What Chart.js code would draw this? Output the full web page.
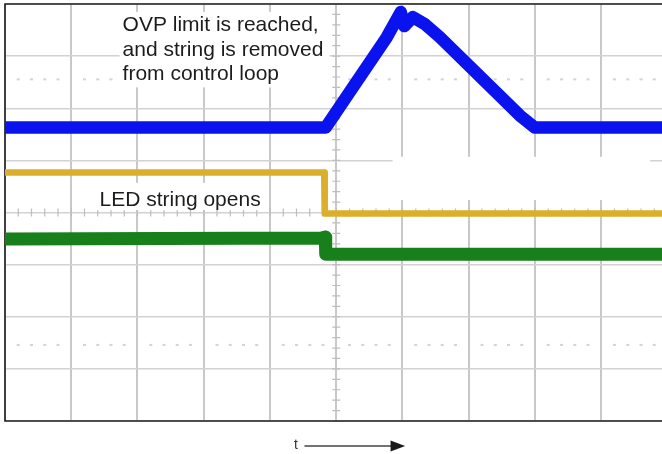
<!DOCTYPE html>
<html>
<head>
<meta charset="utf-8">
<script src="https://cdn.jsdelivr.net/npm/chart.js@4/dist/chart.umd.min.js"></script>
<style>
html,body{margin:0;padding:0;background:#fff;}
canvas{display:block;}
</style>
</head>
<body>
<canvas id="c" width="662" height="454"></canvas>
<script>
// ---- data (x in horizontal divisions, y in vertical divisions from screen centre) ----
const blueX   = [0, 4.841, 5.249, 5.763, 5.974, 6.027, 6.156, 6.337, 6.563, 7.772, 7.998, 9.917];
const blueY   = [1.63, 1.63, 2.40, 3.364, 3.846, 3.576, 3.749, 3.614, 3.364, 1.86, 1.63, 1.63];
const yellowX = [0, 4.818, 4.826, 9.917];
const yellowY = [0.765, 0.765, -0.02, -0.02];
const greenX  = [0, 4.78, 4.835, 4.841, 9.917];
const greenY  = [-0.51, -0.49, -0.47, -0.80, -0.80];
const xGridDivs = [0,1,2,3,4,5,6,7,8,9];
const yGridDivs = [-4,-3,-2,-1,0,1,2,3,4];
const cursorLevels = [2.554, -2.54];
const annotation1 = ["OVP limit is reached,", "and string is removed", "from control loop"];
const annotation2 = ["LED string opens"];
const axisLabel = "t";

const pts = (xs, ys) => xs.map((v, i) => ({x: v, y: ys[i]}));
const FONT = '"Liberation Sans", Arial, Helvetica, sans-serif';

const scopePlugin = {
  id: 'scope',
  beforeDatasetsDraw(chart) {
    const {ctx, chartArea: ca, scales: {x, y}} = chart;
    const X = v => x.getPixelForValue(v), Y = v => y.getPixelForValue(v);
    ctx.save();
    // dotted cursor lines
    ctx.fillStyle = '#d3d3d3';
    cursorLevels.forEach(v => {
      const py = Y(v);
      for (let k = 0; k < 10; k++) {
        for (const f of [0.2, 0.4, 0.6, 0.8]) {
          const px = X(k + f);
          if (px < ca.right) ctx.fillRect(px - 1.5, py - 1, 3, 2);
        }
      }
    });
    // centre axes minor ticks
    ctx.strokeStyle = '#bdbdbd';
    ctx.lineWidth = 1.2;
    const cx = X(5), cy = Y(0);
    ctx.beginPath();
    for (let i = -20; i <= 20; i++) {
      const py = Y(i * 0.2);
      ctx.moveTo(cx - 4, py); ctx.lineTo(cx + 4, py);
    }
    for (let i = 1; i < 50; i++) {
      const px = X(i * 0.2);
      if (px > ca.right) break;
      ctx.moveTo(px, cy - 4); ctx.lineTo(px, cy + 4);
    }
    ctx.stroke();
    // white annotation boxes
    ctx.fillStyle = '#ffffff';
    const box = (u0, u1, v0, v1) => ctx.fillRect(X(u0), Y(v0), X(u1) - X(u0), Y(v1) - Y(v0));
    box(1.73, 4.90, 3.85, 2.40);
    box(1.32, 3.95, 0.569, 0.048);
    box(5.85, 9.74, 1.07, 0.24);
    // annotation text
    ctx.fillStyle = '#1c1c1c';
    ctx.font = '21px ' + FONT;
    ctx.textBaseline = 'alphabetic';
    ctx.textAlign = 'left';
    annotation1.forEach((t, i) => ctx.fillText(t, X(1.775), Y(3.48) + i * 24.5));
    annotation2.forEach((t, i) => ctx.fillText(t, X(1.427), Y(0.125) + i * 24.5));
    // frame
    ctx.strokeStyle = '#1e1e1e';
    ctx.lineWidth = 1.6;
    ctx.beginPath();
    ctx.moveTo(ca.right + 2, ca.top); ctx.lineTo(ca.left, ca.top);
    ctx.lineTo(ca.left, ca.bottom); ctx.lineTo(ca.right + 2, ca.bottom);
    ctx.stroke();
    ctx.restore();
  },
  afterDraw(chart) {
    const {ctx, scales: {x}} = chart;
    const ay = 446;
    ctx.save();
    ctx.fillStyle = '#333';
    ctx.font = '14px ' + FONT;
    ctx.textAlign = 'center';
    ctx.textBaseline = 'middle';
    ctx.fillText(axisLabel, x.getPixelForValue(4.39), ay - 1);
    ctx.strokeStyle = '#444';
    ctx.lineWidth = 1.6;
    const x0 = x.getPixelForValue(4.52), x1 = x.getPixelForValue(5.82), x2 = x.getPixelForValue(6.04);
    ctx.beginPath(); ctx.moveTo(x0, ay); ctx.lineTo(x1 + 1, ay); ctx.stroke();
    ctx.fillStyle = '#1a1a1a';
    ctx.beginPath(); ctx.moveTo(x1, ay - 5.5); ctx.lineTo(x2, ay); ctx.lineTo(x1, ay + 5.5); ctx.closePath(); ctx.fill();
    ctx.restore();
  }
};

new Chart(document.getElementById('c'), {
  type: 'scatter',
  data: {
    datasets: [
      {data: pts(greenX, greenY), borderColor: '#17801a', borderWidth: 13},
      {data: pts(yellowX, yellowY), borderColor: '#dbae2c', borderWidth: 6.5},
      {data: pts(blueX, blueY), borderColor: '#0a12ee', borderWidth: 12.5}
    ].map(d => Object.assign(d, {showLine: true, pointRadius: 0, pointHoverRadius: 0, tension: 0,
                                  borderJoinStyle: 'round', borderCapStyle: 'butt', clip: false}))
  },
  options: {
    responsive: false,
    animation: false,
    events: [],
    layout: {padding: {left: 5, top: 4, right: 0, bottom: 33}},
    plugins: {legend: {display: false}, tooltip: {enabled: false}},
    scales: {
      x: {
        type: 'linear', min: 0, max: 9.917,
        afterBuildTicks: s => { s.ticks = xGridDivs.map(v => ({value: v})); },
        ticks: {display: false},
        grid: {color: '#c8c8c8', lineWidth: 2, drawTicks: false},
        border: {display: false}
      },
      y: {
        type: 'linear', min: -4, max: 4,
        afterBuildTicks: s => { s.ticks = yGridDivs.map(v => ({value: v})); },
        ticks: {display: false},
        grid: {color: '#d2d2d2', lineWidth: 1.5, drawTicks: false},
        border: {display: false}
      }
    }
  },
  plugins: [scopePlugin]
});
</script>
</body>
</html>
